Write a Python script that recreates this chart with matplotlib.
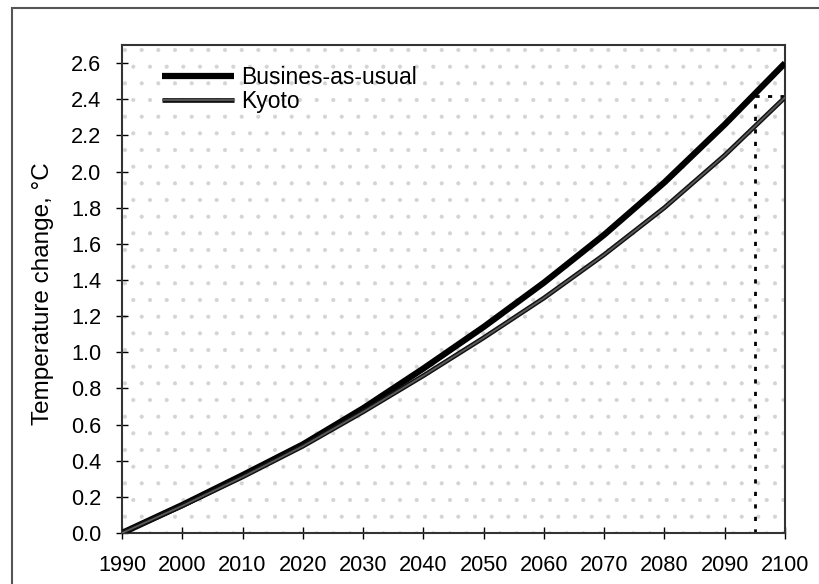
import matplotlib
matplotlib.use("Agg")
import matplotlib.pyplot as plt
import matplotlib.patheffects as pe
from matplotlib.patches import Rectangle

plt.rcParams['font.family'] = ['Liberation Sans', 'DejaVu Sans']
plt.rcParams['hatch.linewidth'] = 0.5

years = [1990, 2000, 2010, 2020, 2030, 2040, 2050, 2060, 2070, 2080, 2090, 2100]
bau = [0.0, 0.155, 0.32, 0.49, 0.69, 0.91, 1.14, 1.385, 1.65, 1.94, 2.26, 2.60]
kyoto = [0.0, 0.15, 0.31, 0.48, 0.67, 0.87, 1.08, 1.30, 1.54, 1.80, 2.09, 2.41]
marker_year = 2095
marker_value = 2.42
xticks = list(range(1990, 2101, 10))
yticks = [round(0.2 * i, 1) for i in range(14)]

fig = plt.figure(figsize=(8.19, 5.84), dpi=100)
fig.patches.append(Rectangle((12/819, -0.1), 1.2, 1 - 8/584 + 0.1, transform=fig.transFigure,
                             fill=False, edgecolor='#555555', linewidth=1.5))
ax = fig.add_axes([122/819, 1 - 533/584, (785-122)/819, (533-45)/584])

ax.add_patch(Rectangle((0, 0), 1, 1, transform=ax.transAxes, facecolor='white',
                       edgecolor='#d4d4d4', hatch='.', linewidth=0, zorder=0))

ax.plot(years, bau, color='black', linewidth=4.5, solid_capstyle='butt', label='Busines-as-usual', zorder=3)
ax.plot(years, kyoto, color='#5a5a5a', linewidth=1.3, solid_capstyle='butt', label='Kyoto', zorder=3,
        path_effects=[pe.Stroke(linewidth=3.4, foreground='#111111'), pe.Normal()])

ax.plot([marker_year, marker_year], [0, marker_value], color='black', linewidth=2,
        linestyle=(0, (1.5, 3)), zorder=2)
ax.plot([marker_year, 2100], [marker_value, marker_value], color='black', linewidth=2,
        linestyle=(0, (1.5, 3)), zorder=2)

ax.set_xlim(1990, 2100)
ax.set_ylim(0, 2.7)
ax.set_xticks(xticks)
ax.set_yticks(yticks)
ax.set_yticklabels([f"{v:.1f}" for v in yticks])
ax.tick_params(direction='inout', length=8, width=1, labelsize=15.7)
ax.tick_params(axis='x', pad=12)
ax.tick_params(axis='y', pad=11)
ax.set_ylabel('Temperature change, °C', fontsize=17.5)
ax.yaxis.set_label_coords(-(122 - 54) / 663, 0.49)
for s in ax.spines.values():
    s.set_linewidth(1.5)
    s.set_color('#333333')

leg = ax.legend(loc='upper left', bbox_to_anchor=(0.060, 0.957), frameon=False, fontsize=16.5,
                handlelength=3.15, handletextpad=0.3, labelspacing=0.03, borderaxespad=0,
                borderpad=0)

fig.savefig('out.png', dpi=100)
